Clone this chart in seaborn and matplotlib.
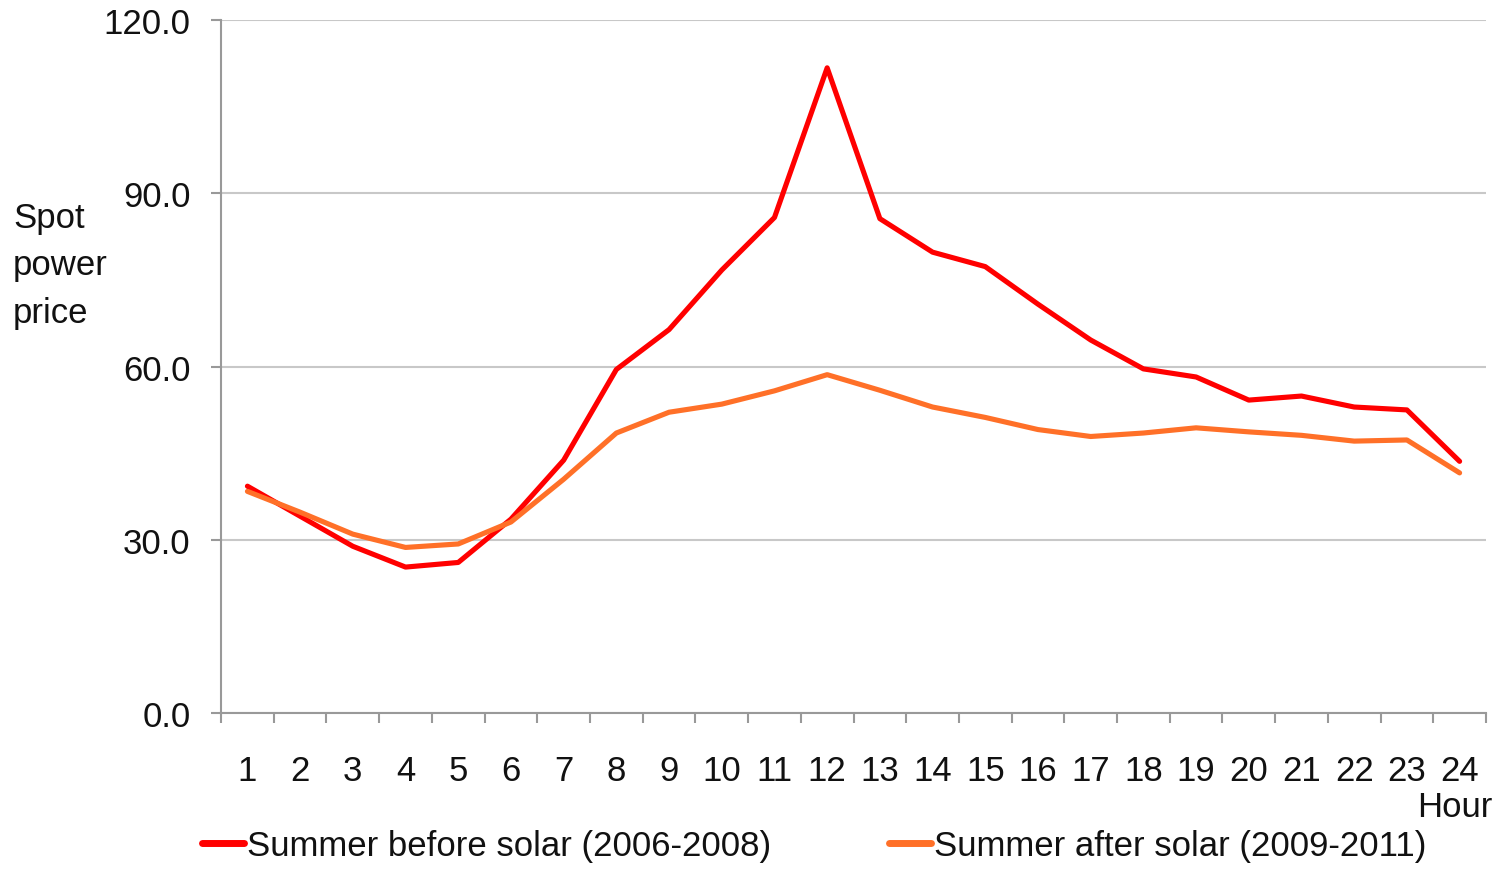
import numpy as np
import pandas as pd
import seaborn as sns
import matplotlib.pyplot as plt
from matplotlib.ticker import FixedLocator

hours = list(range(1, 25))
before_solar = [39.3, 34.1, 28.9, 25.3, 26.1, 33.6, 43.8, 59.5, 66.4, 76.7,
                85.8, 111.7, 85.6, 79.8, 77.3, 70.8, 64.6, 59.6, 58.2, 54.2,
                54.9, 53.0, 52.5, 43.6]
after_solar = [38.4, 34.8, 31.0, 28.7, 29.3, 33.1, 40.5, 48.5, 52.1, 53.5,
               55.8, 58.6, 55.9, 53.0, 51.2, 49.1, 47.9, 48.5, 49.4, 48.7,
               48.1, 47.1, 47.3, 41.6]
series_names = ['Summer before solar (2006-2008)', 'Summer after solar (2009-2011)']
yticks = [0, 30, 60, 90, 120]

df = pd.DataFrame({
    'Hour': hours * 2,
    'Price': before_solar + after_solar,
    'Series': [series_names[0]] * 24 + [series_names[1]] * 24,
})

sns.set_theme(style='white')
plt.rcParams['font.family'] = ['Liberation Sans', 'DejaVu Sans']
fs = 25

fig = plt.figure(figsize=(15.04, 8.70), dpi=100)
ax = fig.add_axes([0.147, 0.179, 0.841, 0.797])

palette = {series_names[0]: '#FF0000', series_names[1]: '#FF7028'}
sns.lineplot(data=df, x='Hour', y='Price', hue='Series', palette=palette,
             linewidth=3.7, ax=ax, legend=False, zorder=3)

ax.set_xlim(0.5, 24.5)
ax.set_ylim(0, 120)
ax.set_yticks(yticks)
ax.set_yticklabels([f'{v:.1f}' for v in yticks])
ax.set_xticks(hours)
ax.set_xticklabels([str(h) for h in hours])
ax.xaxis.set_minor_locator(FixedLocator(np.arange(0.5, 25, 1)))

ax.tick_params(axis='x', which='major', length=0, pad=29, labelsize=fs, labelcolor='#111111')
ax.tick_params(axis='x', which='minor', length=7, width=1.5, color='#999999', direction='out', bottom=True)
ax.tick_params(axis='y', length=7, width=1.5, color='#999999', direction='out', left=True,
               pad=15, labelsize=fs, labelcolor='#111111')

ax.yaxis.grid(True, color='#C8C8C8', linewidth=1.5)
ax.xaxis.grid(False)
ax.set_axisbelow(True)
for side in ['top', 'right']:
    ax.spines[side].set_visible(False)
for side in ['left', 'bottom']:
    ax.spines[side].set_color('#999999')
    ax.spines[side].set_linewidth(1.5)
ax.set_xlabel('')
ax.set_ylabel('')

fig.text(13 / 1504, 1 - 266 / 870, 'Spot\npower\nprice', ha='left', va='center',
         fontsize=fs, color='#111111', linespacing=1.55)
fig.text(1492 / 1504, 1 - 808 / 870, 'Hour', ha='right', va='center',
         fontsize=fs, color='#111111')

handles = [plt.Line2D([], [], color=palette[n], linewidth=5, solid_capstyle='round') for n in series_names]
fig.legend(handles, series_names, loc='center left', bbox_to_anchor=(202 / 1504, 1 - 847 / 870),
           ncol=2, frameon=False, fontsize=fs, handlelength=1.2, handletextpad=0.1,
           columnspacing=3.4, borderaxespad=0, borderpad=0, labelcolor='#111111')

fig.savefig('out.png', dpi=100)
